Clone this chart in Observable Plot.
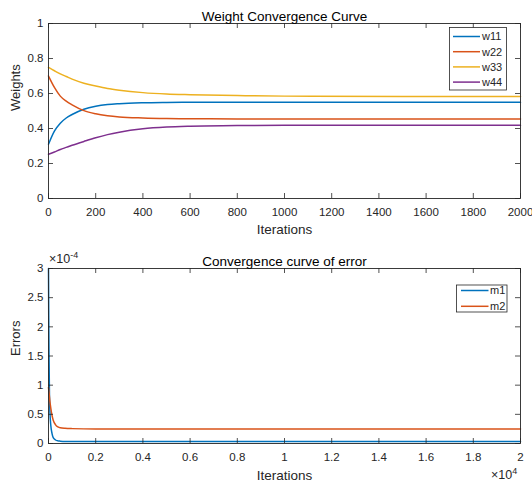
<!DOCTYPE html>
<html>
<head>
<meta charset="utf-8">
<script src="https://cdn.jsdelivr.net/npm/d3@7"></script>
<script src="https://cdn.jsdelivr.net/npm/@observablehq/plot@0.6"></script>
<style>
  html, body { margin: 0; padding: 0; background: #fff; }
  #chart svg { display: block; }
</style>
</head>
<body>
<div id="chart"></div>
<script>
// ---------- Data: weight convergence ----------
const iterW = [0, 25, 50, 75, 100, 150, 200, 250, 300, 400, 500, 600, 800, 1000, 1500, 2000];
const w11 = [0.310, 0.385, 0.430, 0.460, 0.480, 0.510, 0.527, 0.537, 0.542, 0.547, 0.549, 0.550, 0.550, 0.550, 0.550, 0.550];
const w22 = [0.700, 0.635, 0.585, 0.556, 0.535, 0.502, 0.484, 0.473, 0.466, 0.460, 0.457, 0.456, 0.455, 0.455, 0.455, 0.455];
const w33 = [0.749, 0.730, 0.712, 0.697, 0.682, 0.659, 0.643, 0.629, 0.619, 0.605, 0.597, 0.593, 0.588, 0.585, 0.583, 0.583];
const w44 = [0.253, 0.266, 0.280, 0.292, 0.304, 0.326, 0.347, 0.365, 0.379, 0.398, 0.408, 0.413, 0.417, 0.418, 0.418, 0.418];
const weightNames = ["w11", "w22", "w33", "w44"];
const weightTicksX = [0, 200, 400, 600, 800, 1000, 1200, 1400, 1600, 1800, 2000];
const weightTicksY = [0, 0.2, 0.4, 0.6, 0.8, 1];
const weightTickLabelsY = ["0", "0.2", "0.4", "0.6", "0.8", "1"];

// ---------- Data: error convergence ----------
const iterE = [0, 10, 20, 40, 60, 100, 150, 200, 300, 400, 500, 700, 1000, 2000, 5000, 10000, 20000];
const m1 = [3.0e-4, 2.2e-4, 1.6e-4, 0.85e-4, 0.55e-4, 0.30e-4, 0.17e-4, 0.10e-4, 0.06e-4, 0.045e-4, 0.04e-4, 0.035e-4, 0.035e-4, 0.035e-4, 0.035e-4, 0.035e-4, 0.035e-4];
const m2 = [0.96e-4, 0.92e-4, 0.88e-4, 0.80e-4, 0.72e-4, 0.60e-4, 0.48e-4, 0.40e-4, 0.32e-4, 0.285e-4, 0.27e-4, 0.26e-4, 0.255e-4, 0.25e-4, 0.25e-4, 0.25e-4, 0.25e-4];
const errorNames = ["m1", "m2"];
const errorTicksX = [0, 2000, 4000, 6000, 8000, 10000, 12000, 14000, 16000, 18000, 20000];
const errorTickLabelsX = ["0", "0.2", "0.4", "0.6", "0.8", "1", "1.2", "1.4", "1.6", "1.8", "2"];
const errorTicksY = [0, 0.5e-4, 1e-4, 1.5e-4, 2e-4, 2.5e-4, 3e-4];
const errorTickLabelsY = ["0", "0.5", "1", "1.5", "2", "2.5", "3"];

const colors = ["#0072BD", "#D95319", "#EDB120", "#7E2F8E"];
const axisColor = "#262626";
const font = "'Liberation Sans', Arial, Helvetica, sans-serif";

function toRows(iters, series, names) {
  const rows = [];
  series.forEach((vals, k) => vals.forEach((v, i) => rows.push({iter: iters[i], value: v, series: names[k]})));
  return rows;
}

function labelFor(ticks, labels) {
  return d => labels[ticks.indexOf(d)];
}

function panel(opts) {
  const {height, marginTop, marginBottom, xDomain, yDomain, rows, names, xTicks, yTicks, xFmt, yFmt, title, xLabel, yLabel, xLabelDy} = opts;
  const width = 532, marginLeft = 48, marginRight = 12;
  const fw = width - marginLeft - marginRight;
  const fh = height - marginTop - marginBottom;
  const tk = 5;
  return Plot.plot({
    width, height, marginLeft, marginRight, marginTop, marginBottom,
    x: {domain: xDomain},
    y: {domain: yDomain},
    color: {domain: names, range: colors.slice(0, names.length)},
    style: {fontFamily: font, fontSize: "11.5px", color: axisColor, background: "#fff", overflow: "visible"},
    marks: [
      Plot.line(rows, {x: "iter", y: "value", z: "series", stroke: "series", strokeWidth: 1.5, curve: "monotone-x"}),
      Plot.ruleX(xTicks, {x: d => d, insetTop: fh - tk, stroke: axisColor, strokeWidth: 0.8}),
      Plot.ruleX(xTicks, {x: d => d, insetBottom: fh - tk, stroke: axisColor, strokeWidth: 0.8}),
      Plot.ruleY(yTicks, {y: d => d, insetRight: fw - tk, stroke: axisColor, strokeWidth: 0.8}),
      Plot.ruleY(yTicks, {y: d => d, insetLeft: fw - tk, stroke: axisColor, strokeWidth: 0.8}),
      Plot.frame({stroke: axisColor, strokeWidth: 0.9}),
      Plot.axisX({ticks: xTicks, tickSize: 0, tickPadding: 9, tickFormat: xFmt, label: null, fill: axisColor}),
      Plot.axisY({ticks: yTicks, tickSize: 0, tickPadding: 5, tickFormat: yFmt, label: null, fill: axisColor}),
      Plot.text([title], {text: d => d, frameAnchor: "top", dy: -12, fontSize: 13.5, fill: "#000"}),
      Plot.text([xLabel], {text: d => d, frameAnchor: "bottom", dy: xLabelDy, fontSize: 13.5, fill: axisColor}),
      Plot.text([yLabel], {text: d => d, frameAnchor: "left", dx: -33, rotate: -90, fontSize: 13, fill: axisColor})
    ]
  });
}

function addLegend(svg, names, box, rowY0, rowStep, lineX0, lineX1, textX) {
  const g = d3.select(svg).append("g").attr("font-family", font).attr("font-size", 11).attr("text-anchor", "start");
  g.append("rect").attr("x", box[0]).attr("y", box[1]).attr("width", box[2]).attr("height", box[3])
    .attr("fill", "#fff").attr("stroke", axisColor).attr("stroke-width", 0.8);
  names.forEach((n, i) => {
    const y = rowY0 + i * rowStep;
    g.append("line").attr("x1", lineX0).attr("x2", lineX1).attr("y1", y).attr("y2", y)
      .attr("stroke", colors[i]).attr("stroke-width", 1.5);
    g.append("text").attr("x", textX).attr("y", y).attr("dy", "0.35em").attr("text-anchor", "start")
      .attr("fill", axisColor).text(n);
  });
}

function addExponent(svg, x, y, base, exp) {
  const t = d3.select(svg).append("text").attr("x", x).attr("y", y)
    .attr("font-family", font).attr("font-size", 12.5).attr("fill", axisColor).attr("text-anchor", "start");
  t.append("tspan").text(base);
  t.append("tspan").attr("dy", -5).attr("font-size", 9).text(exp);
}

const topPanel = panel({
  height: 243, marginTop: 23, marginBottom: 45,
  xDomain: [0, 2000], yDomain: [0, 1],
  rows: toRows(iterW, [w11, w22, w33, w44], weightNames), names: weightNames,
  xTicks: weightTicksX, yTicks: weightTicksY,
  xFmt: d => String(d), yFmt: labelFor(weightTicksY, weightTickLabelsY),
  title: "Weight Convergence Curve", xLabel: "Iterations", yLabel: "Weights", xLabelDy: 35
});
addLegend(topPanel, weightNames, [449.5, 27.5, 57, 62.5], 36.5, 15.2, 453, 480, 482);

const bottomPanel = panel({
  height: 242, marginTop: 25, marginBottom: 42,
  xDomain: [0, 20000], yDomain: [0, 3e-4],
  rows: toRows(iterE, [m1, m2], errorNames), names: errorNames,
  xTicks: errorTicksX, yTicks: errorTicksY,
  xFmt: labelFor(errorTicksX, errorTickLabelsX), yFmt: labelFor(errorTicksY, errorTickLabelsY),
  title: "Convergence curve of error", xLabel: "Iterations", yLabel: "Errors", xLabelDy: 36
});
addLegend(bottomPanel, errorNames, [456.5, 42, 50.5, 27], 47.5, 15.8, 461, 488.5, 490);
addExponent(bottomPanel, 49, 20, "\u00d710", "-4");
addExponent(bottomPanel, 491, 236, "\u00d710", "4");

document.getElementById("chart").append(topPanel, bottomPanel);
</script>
</body>
</html>
